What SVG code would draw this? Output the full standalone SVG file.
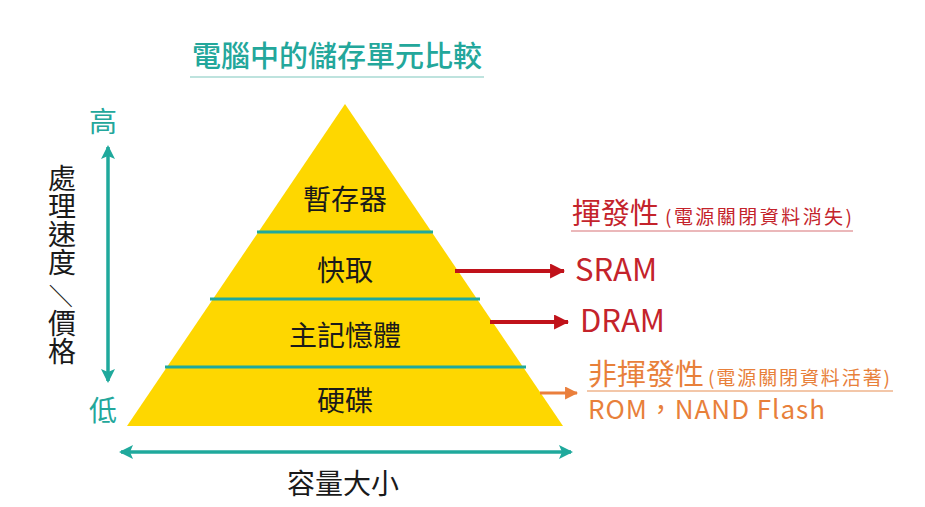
<svg xmlns="http://www.w3.org/2000/svg" width="925" height="507" viewBox="0 0 925 507">
<style>
text{font-family:"Noto Sans CJK TC","Noto Sans CJK SC",sans-serif}
.lbl{font-size:28px;fill:#1a1a1a;text-anchor:middle}
.teal{fill:#23a79b}
.red{fill:#c4232b}
.org{fill:#e8803a}
.sep{stroke:#1fa99c;stroke-width:3}
.vert{font-size:28px;fill:#1a1a1a;writing-mode:vertical-rl}
</style>
<defs>
<marker id="tealHead" markerUnits="userSpaceOnUse" markerWidth="14" markerHeight="14" viewBox="0 0 14 14" refX="12" refY="7" orient="auto-start-reverse">
<path d="M0,0 L14,7 L0,14 L3,7 Z" fill="#1fa99c"/>
</marker>
<marker id="redHead" markerUnits="userSpaceOnUse" markerWidth="15" markerHeight="15" viewBox="0 0 14 14" refX="13" refY="7" orient="auto">
<path d="M0,0 L14,7 L0,14 Z" fill="#c0121a"/>
</marker>
<marker id="orgHead" markerUnits="userSpaceOnUse" markerWidth="13" markerHeight="13" viewBox="0 0 12 12" refX="11" refY="6" orient="auto">
<path d="M0,0 L12,6 L0,12 Z" fill="#ea7f3c"/>
</marker>
</defs>

<g id="title">
<text x="192" y="67" font-size="29" font-weight="500" class="teal">電腦中的儲存單元比較</text>
<line x1="190" y1="77" x2="484" y2="77" stroke="#a8dad3" stroke-width="1.5"/>
</g>

<g id="pyramid">
<polygon points="345,104 563,426 127,426" fill="#fed700"/>
<line class="sep" x1="257" y1="232" x2="433" y2="232"/>
<line class="sep" x1="210" y1="299" x2="480" y2="299"/>
<line class="sep" x1="165" y1="367" x2="526" y2="367"/>
</g>
<g id="node-register"><text class="lbl" x="345" y="210">暫存器</text></g>
<g id="node-cache"><text class="lbl" x="345" y="281">快取</text></g>
<g id="node-memory"><text class="lbl" x="345" y="346">主記憶體</text></g>
<g id="node-disk"><text class="lbl" x="345" y="411">硬碟</text></g>

<g id="axis-speed">
<text x="103" y="132" font-size="28" class="teal" text-anchor="middle">高</text>
<text x="103" y="421" font-size="28" class="teal" text-anchor="middle">低</text>
<text class="vert" x="62" y="164">處理速度</text>
<text x="62" y="296" font-size="24" fill="#1a1a1a" text-anchor="middle" dominant-baseline="central" transform="rotate(90 62 296)">／</text>
<text class="vert" x="62" y="309">價格</text>
</g>

<g id="axis-capacity">
<text class="lbl" x="343" y="494">容量大小</text>
</g>

<g id="volatile">
<text x="572" y="224" font-size="29" class="red">揮發性</text>
<text x="665" y="224" font-size="19" class="red" textLength="187" lengthAdjust="spacing">(電源關閉資料消失)</text>
<line x1="571" y1="231" x2="853" y2="231" stroke="#e4a0a3" stroke-width="1.5"/>
<text x="575" y="281" font-size="31" class="red">SRAM</text>
<text x="580" y="332" font-size="31" class="red">DRAM</text>
</g>

<g id="nonvolatile">
<text x="588" y="385" font-size="29" class="org">非揮發性</text>
<text x="708" y="385" font-size="19" class="org" textLength="182" lengthAdjust="spacing">(電源關閉資料活著)</text>
<line x1="587" y1="391" x2="893" y2="391" stroke="#efb48c" stroke-width="1.5"/>
<text x="588" y="419" font-size="26" class="org" textLength="237" lengthAdjust="spacing">ROM，NAND Flash</text>
</g>

<g id="connectors">
<line x1="108" y1="147" x2="108" y2="381" stroke="#1fa99c" stroke-width="3.5" marker-start="url(#tealHead)" marker-end="url(#tealHead)"/>
<line x1="121" y1="452" x2="571" y2="452" stroke="#1fa99c" stroke-width="3.5" marker-start="url(#tealHead)" marker-end="url(#tealHead)"/>
<line x1="455" y1="271" x2="564" y2="271" stroke="#c0121a" stroke-width="4" marker-end="url(#redHead)"/>
<line x1="490" y1="322" x2="568" y2="322" stroke="#c0121a" stroke-width="4" marker-end="url(#redHead)"/>
<line x1="540" y1="393" x2="577" y2="393" stroke="#ea7f3c" stroke-width="3" marker-end="url(#orgHead)"/>
</g>
</svg>
